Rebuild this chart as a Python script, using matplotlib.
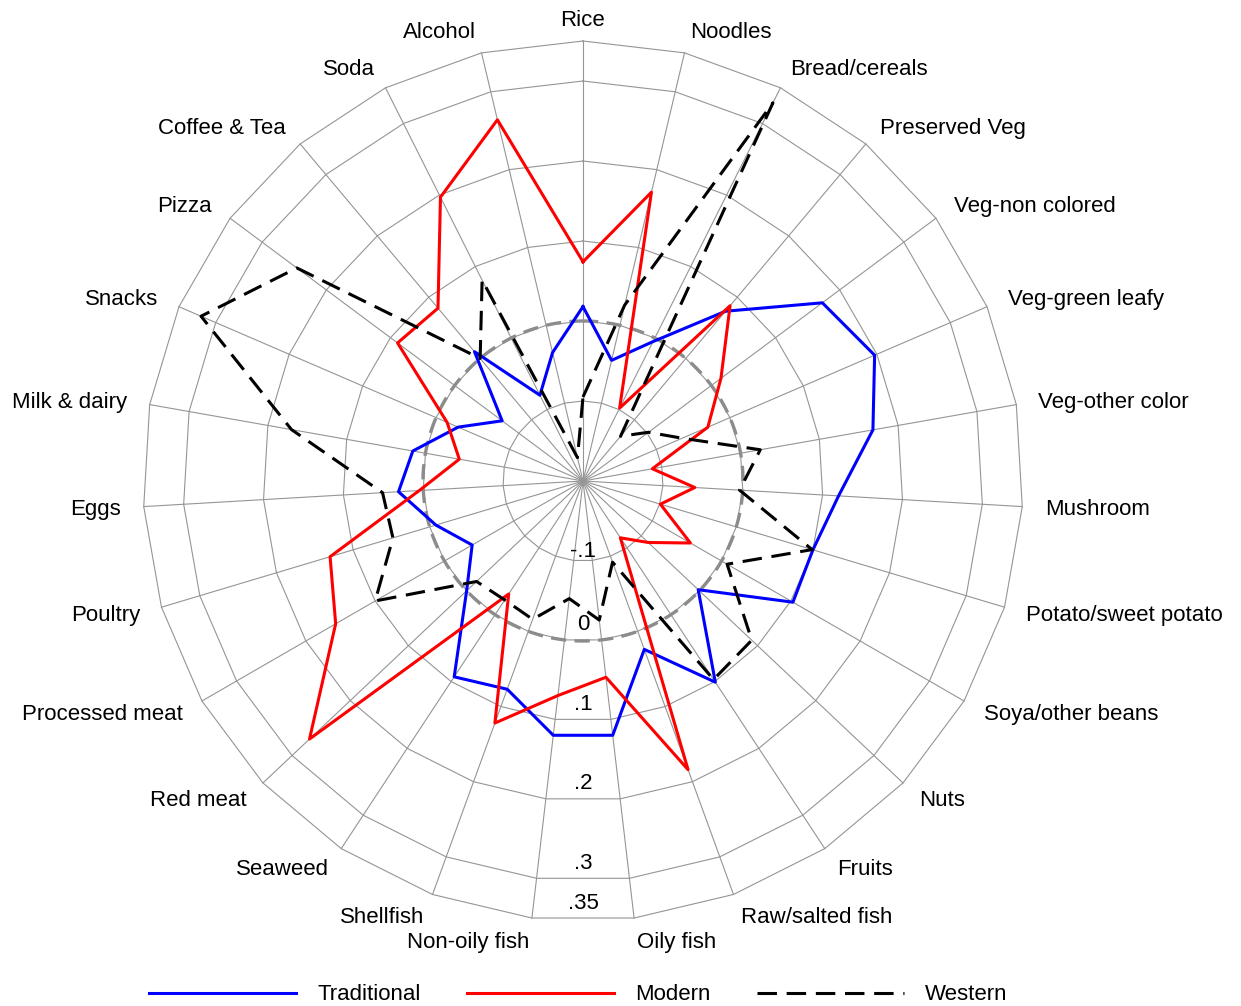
import numpy as np
import matplotlib
matplotlib.use('Agg')
import matplotlib.pyplot as plt
from matplotlib.lines import Line2D

plt.rcParams['font.family'] = ['Liberation Sans', 'DejaVu Sans']
plt.rcParams['lines.scale_dashes'] = False

# Food groups, clockwise from the top
categories = ["Rice", "Noodles", "Bread/cereals", "Preserved Veg", "Veg-non colored",
              "Veg-green leafy", "Veg-other color", "Mushroom", "Potato/sweet potato",
              "Soya/other beans", "Nuts", "Fruits", "Raw/salted fish", "Oily fish",
              "Non-oily fish", "Shellfish", "Seaweed", "Red meat", "Processed meat",
              "Poultry", "Eggs", "Milk & dairy", "Snacks", "Pizza", "Coffee & Tea",
              "Soda", "Alcohol"]

traditional = [0.018, -0.045, -0.005, 0.077, 0.173, 0.197, 0.168, 0.12, 0.10, 0.103,
               -0.002, 0.101, 0.024, 0.12, 0.12, 0.077, 0.093, 0.0, -0.04, -0.008,
               0.031, 0.016, -0.03, -0.074, 0.011, -0.08, -0.035]

modern = [0.074, 0.171, -0.098, 0.086, 0.015, -0.03, -0.112, -0.06, -0.099, -0.045,
          -0.088, -0.115, 0.184, 0.047, 0.07, 0.122, -0.031, 0.27, 0.157, 0.13,
          0.005, -0.043, -0.015, 0.089, 0.082, 0.197, 0.264]

western = [-0.095, 0.026, 0.329, -0.127, -0.098, -0.065, 0.025, -0.004, 0.099, 0.008,
           0.09, 0.097, -0.092, -0.025, -0.052, -0.016, -0.022, -0.017, 0.1, 0.048,
           0.051, 0.17, 0.32, 0.246, 0.0, 0.081, -0.17]

ring_values = [-0.1, 0, 0.1, 0.2, 0.3, 0.35]
ring_labels = ["-.1", "0", ".1", ".2", ".3", ".35"]

R_MIN = -0.2   # value at the centre
PX = 800.0     # pixels per unit of radius
W, H = 1241, 1006
CX, CY = 583, 481

n = len(categories)
theta = np.arange(n) * 2 * np.pi / n


def to_xy(vals):
    r = np.asarray(vals, dtype=float) - R_MIN
    x = r * np.sin(theta)
    y = r * np.cos(theta)
    return np.append(x, x[0]), np.append(y, y[0])


fig = plt.figure(figsize=(W / 100, H / 100), dpi=100)
ax = fig.add_axes([0, 0, 1, 1])
ax.set_xlim(-CX / PX, (W - CX) / PX)
ax.set_ylim(-(H - CY) / PX, CY / PX)
ax.axis('off')

grid_col = '#959595'
r_out = ring_values[-1] - R_MIN

# spokes
for t in theta:
    ax.plot([0, r_out * np.sin(t)], [0, r_out * np.cos(t)], color=grid_col, lw=0.8, zorder=1)

# polygon rings
for v in ring_values:
    x, y = to_xy(np.full(n, v))
    ax.plot(x, y, color=grid_col, lw=0.8, zorder=1)

# zero reference circle
tt = np.linspace(0, 2 * np.pi, 400)
r0 = 0 - R_MIN
ax.plot(r0 * np.sin(tt), r0 * np.cos(tt), color='#8c8c8c', lw=2.4,
        linestyle=(0, (11, 6)), zorder=2)

# ring labels in the bottom sector
for v, lab in zip(ring_values, ring_labels):
    off = 9 if v < 0 else 15
    y = -(v - R_MIN) * np.cos(np.pi / n) + off / PX
    ax.text(0, y, lab, ha='center', va='center', fontsize=16, zorder=5)

# category labels
r_lab = 462.5 / PX
for t, lab in zip(theta, categories):
    s = np.sin(t)
    ha = 'center' if abs(s) < 0.01 else ('left' if s > 0 else 'right')
    ax.text(r_lab * s, r_lab * np.cos(t) - 2 / PX, lab, ha=ha, va='center', fontsize=16)

# series
x, y = to_xy(traditional)
ax.plot(x, y, color='#0000ff', lw=2.2, zorder=3)
x, y = to_xy(modern)
ax.plot(x, y, color='#ff0000', lw=2.2, zorder=4)
x, y = to_xy(western)
ax.plot(x, y, color='black', lw=2.2, linestyle=(0, (14, 7)), zorder=5)

handles = [Line2D([], [], color='#0000ff', lw=2.2),
           Line2D([], [], color='#ff0000', lw=2.2),
           Line2D([], [], color='black', lw=2.2, linestyle=(0, (14, 7)))]
fig.legend(handles, ["Traditional", "Modern", "Western"], loc='center',
           bbox_to_anchor=(0.466, 0.011), ncol=3, frameon=False, fontsize=16,
           handlelength=6.6, handletextpad=0.95, columnspacing=2.1)

fig.savefig('out.png', dpi=100)
